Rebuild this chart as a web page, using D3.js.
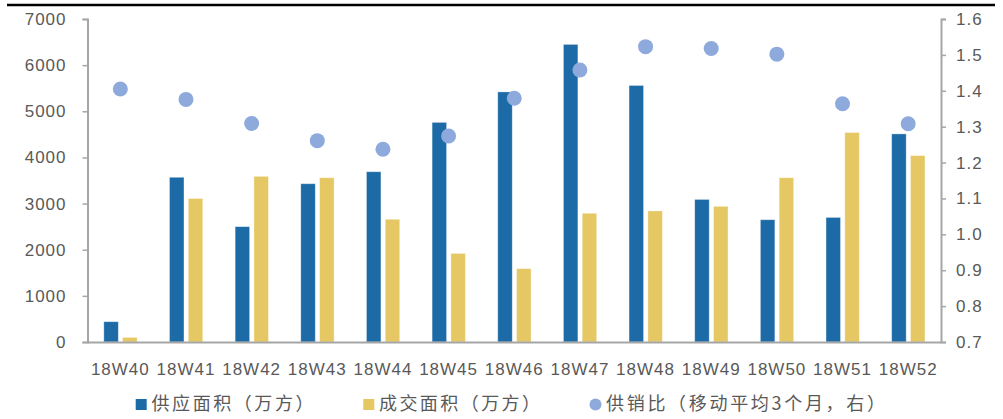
<!DOCTYPE html>
<html>
<head>
<meta charset="utf-8">
<script src="https://cdn.jsdelivr.net/npm/d3@7/dist/d3.min.js"></script>
<style>
  html, body { margin: 0; padding: 0; background: #ffffff; }
  svg { display: block; }
  .num { font-family: "Liberation Sans", Arial, sans-serif; font-size: 17px; fill: #595959; letter-spacing: 1px; }
  .leg { font-family: "Noto Sans CJK SC", sans-serif; font-size: 18px; fill: #595959; }
</style>
</head>
<body>
<script>
// Weekly supply vs. transaction area, with supply/sales ratio on the right axis
const weeks = ["18W40","18W41","18W42","18W43","18W44","18W45","18W46","18W47","18W48","18W49","18W50","18W51","18W52"];
const supplyArea = [440, 3570, 2500, 3430, 3690, 4760, 5420, 6450, 5560, 3090, 2650, 2700, 4510];
const dealArea   = [100, 3110, 3590, 3560, 2660, 1920, 1590, 2790, 2840, 2940, 3560, 4540, 4040];
const ratio      = [1.405, 1.376, 1.309, 1.261, 1.237, 1.274, 1.379, 1.458, 1.523, 1.518, 1.502, 1.364, 1.308];
const leftTicks  = [0, 1000, 2000, 3000, 4000, 5000, 6000, 7000];
const rightTicks = [0.7, 0.8, 0.9, 1.0, 1.1, 1.2, 1.3, 1.4, 1.5, 1.6];
const legendLabels = ["供应面积（万方）", "成交面积（万方）", "供销比（移动平均3个月，右）"];

const W = 1003, H = 419;
const plotL = 87.5, plotR = 941, plotT = 19, plotB = 342;
const blue = "#1c6aa6", gold = "#e5c763", dot = "#8eaadc", axisGray = "#a6a6a6";

const svg = d3.select("body").append("svg").attr("width", W).attr("height", H);

// rule across the top
svg.append("line").attr("x1", 7).attr("x2", 995).attr("y1", 5).attr("y2", 5)
  .attr("stroke", "#000").attr("stroke-width", 2.5);

const x = d3.scaleBand().domain(weeks).range([plotL, plotR]).padding(0);
const yL = d3.scaleLinear().domain([0, 7000]).range([plotB, plotT]);
const yR = d3.scaleLinear().domain([0.7, 1.6]).range([plotB, plotT]);

const barW = 14.5;
const cx = d => x(d) + x.bandwidth() / 2;

// supply bars
svg.append("g").selectAll("rect").data(weeks).join("rect")
  .attr("x", (d) => cx(d) - 16.5)
  .attr("y", (d, i) => yL(supplyArea[i]))
  .attr("width", barW)
  .attr("height", (d, i) => plotB - yL(supplyArea[i]))
  .attr("fill", blue)
  .attr("stroke", "#ffffff").attr("stroke-opacity", 0.45).attr("stroke-width", 0.8);

// transaction bars
svg.append("g").selectAll("rect").data(weeks).join("rect")
  .attr("x", (d) => cx(d) + 2.3)
  .attr("y", (d, i) => yL(dealArea[i]))
  .attr("width", barW)
  .attr("height", (d, i) => plotB - yL(dealArea[i]))
  .attr("fill", gold)
  .attr("stroke", "#ffffff").attr("stroke-opacity", 0.45).attr("stroke-width", 0.8);

// ratio markers
svg.append("g").selectAll("circle").data(weeks).join("circle")
  .attr("cx", d => cx(d))
  .attr("cy", (d, i) => yR(ratio[i]))
  .attr("r", 7.5)
  .attr("fill", dot);

// left axis
const axL = svg.append("g").attr("transform", `translate(${plotL},0)`)
  .call(d3.axisLeft(yL).tickValues(leftTicks).tickSize(5).tickPadding(16).tickFormat(d3.format("d")));
// right axis
const axR = svg.append("g").attr("transform", `translate(${plotR},0)`)
  .call(d3.axisRight(yR).tickValues(rightTicks).tickSize(5).tickPadding(10).tickFormat(d3.format(".1f")));
// category axis (baseline only)
const axX = svg.append("g").attr("transform", `translate(0,${plotB})`)
  .call(d3.axisBottom(x).tickSize(0).tickPadding(21));

[axL, axR, axX].forEach(g => {
  g.select(".domain").attr("stroke", axisGray).attr("stroke-width", 2);
  g.selectAll(".tick line").attr("stroke", axisGray).attr("stroke-width", 1.5);
  g.selectAll("text").attr("class", "num").attr("font-family", null).attr("font-size", null).attr("fill", null);
});
axX.select(".domain").attr("d", `M${plotL},0.5H${plotR}`);

// legend
const legend = svg.append("g");
const items = [
  { kind: "rect", color: blue, mx: 135.7, tx: 151.5, tw: 162 },
  { kind: "rect", color: gold, mx: 363.3, tx: 379, tw: 161 },
  { kind: "circle", color: dot, mx: 589.5, tx: 606, tw: 279 }
];
items.forEach((it, i) => {
  if (it.kind === "rect") {
    legend.append("rect").attr("x", it.mx).attr("y", 399).attr("width", 11).attr("height", 11).attr("fill", it.color);
  } else {
    legend.append("circle").attr("cx", it.mx + 6).attr("cy", 404.5).attr("r", 6).attr("fill", it.color);
  }
  legend.append("text").attr("class", "leg")
    .attr("x", it.tx).attr("y", 409.5)
    .attr("textLength", it.tw).attr("lengthAdjust", "spacing")
    .text(legendLabels[i]);
});
</script>
</body>
</html>
